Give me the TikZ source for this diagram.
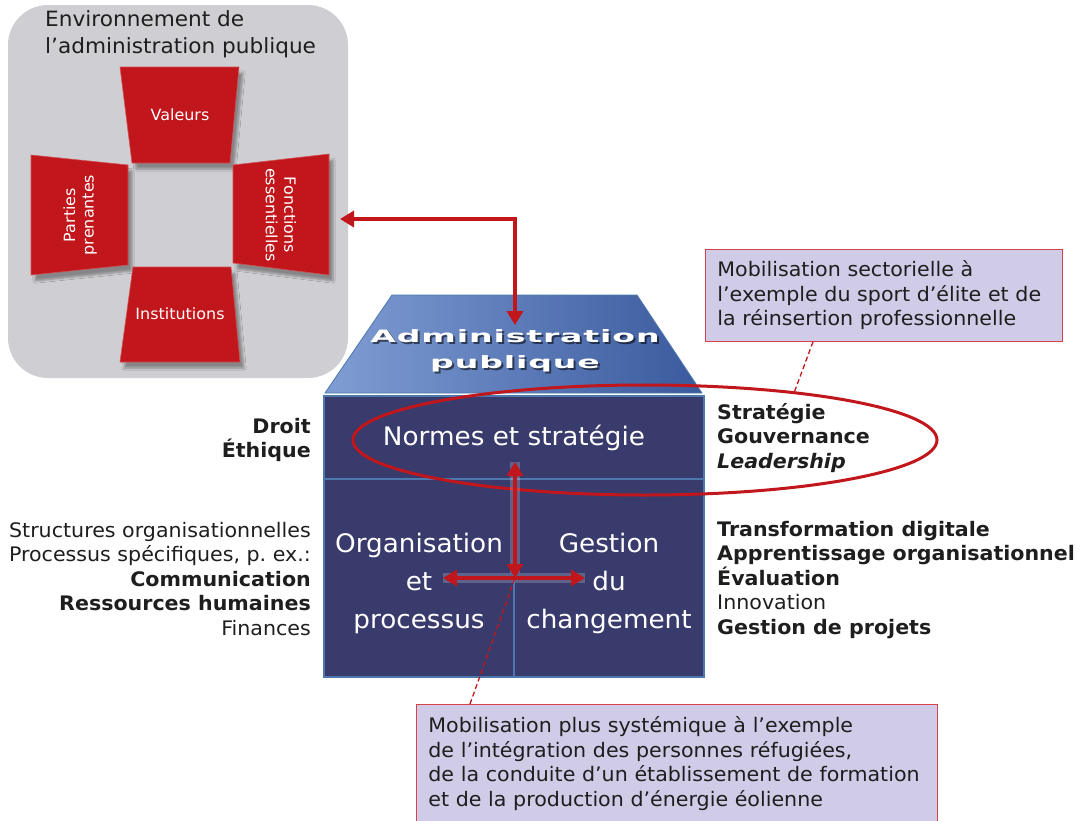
\documentclass[tikz,border=0pt]{standalone}
\usepackage{fontspec}
\setmainfont[FakeStretch=1.03]{DejaVu Sans}
\newfontfamily\rooffont[FakeStretch=1.95,LetterSpace=5]{DejaVu Sans}
\usepackage{xcolor}
\definecolor{envgray}{HTML}{CFCED2}
\definecolor{piecered}{HTML}{C1161B}
\definecolor{bodynavy}{HTML}{383B6C}
\definecolor{bodyedge}{HTML}{4C78AE}
\definecolor{roofhi}{HTML}{809DD3}
\definecolor{roofdeep}{HTML}{3A5A9E}
\definecolor{notefill}{HTML}{D0CCE7}
\definecolor{noteedge}{HTML}{D8404A}
\definecolor{inktext}{HTML}{1E1E1E}
\usepackage{tikz}
\usetikzlibrary{shapes.geometric, arrows.meta, positioning, shadows.blur, calc}

\begin{document}
\begin{tikzpicture}[x=1pt, y=-1pt,
  piece/.style={fill=piecered, draw=piecered!75!white, line width=0.6pt,
    blur shadow={shadow xshift=4pt, shadow yshift=-6pt, shadow opacity=35, shadow blur steps=6}},
  piecelabel/.style={text=white, font=\fontsize{15.5}{18.5}\selectfont, align=center},
  cell/.style={rectangle, draw=bodyedge, line width=2.5pt, fill=bodynavy},
  celltext/.style={text=white, align=center, font=\fontsize{25.5}{38}\selectfont},
  sidetext/.style={inner sep=0pt, text=inktext, font=\fontsize{20}{24.5}\selectfont},
  note/.style={rectangle, draw=noteedge, line width=0.8pt, fill=notefill,
    text=inktext, align=left, inner xsep=12pt, inner ysep=0pt,
    font=\fontsize{20}{24.5}\selectfont},
  linkarrow/.style={draw=piecered, line width=4pt,
    {Triangle[length=14pt,width=16pt]}-{Triangle[length=14pt,width=16pt]}},
  notelink/.style={draw=piecered, line width=1.3pt, dash pattern=on 5pt off 3pt}
]
\useasboundingbox (0,0) rectangle (1082,820);

% Environment panel
\node[rectangle, rounded corners=40pt, fill=envgray, minimum width=340pt,
  minimum height=373pt, inner sep=0pt] (env) at (178,191.5) {};
\node[anchor=west, inner sep=0pt, align=left, text=inktext,
  font=\fontsize{21}{27}\selectfont] (envtitle) at (45,34)
  {Environnement de\\l'administration publique};

% Four red pieces
\path[piece] (120,67) -- (239,67) -- (230,163) -- (132,163) -- cycle;
\path[piece] (31,155) -- (128,165) -- (128,265) -- (31,275) -- cycle;
\path[piece] (233,165) -- (329,154) -- (329,275) -- (233,263) -- cycle;
\path[piece] (133,267) -- (231,267) -- (240,362) -- (120,362) -- cycle;
\node[piecelabel] (values) at (180,115) {Valeurs};
\node[piecelabel, rotate=90] (stake) at (80,215) {Parties\\prenantes};
\node[piecelabel, rotate=-90] (core) at (281,215) {Fonctions\\essentielles};
\node[piecelabel] (inst) at (180,314) {Institutions};

% Roof
\path[draw=bodyedge, line width=0.8pt, left color=roofhi, right color=roofdeep]
  (392,295) -- (637,295) -- (702,393) -- (325,393) -- cycle;
\node[align=center, text=black, opacity=0.55,
  font=\rooffont\bfseries\fontsize{17}{26}\selectfont] at (517,353)
  {Administration\\publique};
\node[align=center, text=white,
  font=\rooffont\bfseries\fontsize{17}{26}\selectfont] (rooflabel) at (515,351)
  {Administration\\publique};

% Body cells
\node[cell, minimum width=380pt, minimum height=83pt] (norms) at (514,437.5) {};
\node[cell, minimum width=190pt, minimum height=198pt] (orga) at (419,578) {};
\node[cell, minimum width=190pt, minimum height=198pt] (change) at (609,578) {};
\node[celltext] at (norms) {Normes et stratégie};
\node[celltext] at ([yshift=-5pt]orga.center) {Organisation\\et\\processus};
\node[celltext] at ([yshift=-5pt]change.center) {Gestion\\du\\changement};

% Side lists
\node[sidetext, anchor=east, align=right] (law) at (311,440)
  {\textbf{Droit}\\\textbf{Éthique}};
\node[sidetext, anchor=east, align=right] (structs) at (311,579)
  {Structures organisationnelles\\Processus spécifiques, p.\ ex.:\\\textbf{Communication}\\\textbf{Ressources humaines}\\Finances};
\node[sidetext, anchor=west, align=left] (steer) at (717,438)
  {\textbf{Stratégie}\\\textbf{Gouvernance}\\\textbf{\itshape Leadership}};
\node[sidetext, anchor=west, align=left] (levers) at (717,580)
  {\textbf{Transformation digitale}\\\textbf{Apprentissage organisationnel}\\\textbf{Évaluation}\\Innovation\\\textbf{Gestion de projets}};

% Callouts
\node[note, anchor=north west, minimum width=357pt, minimum height=92pt,
  text width=333pt] (sectoral) at (705,249)
  {Mobilisation sectorielle à\\l'exemple du sport d'élite et de\\la réinsertion professionnelle};
\node[note, anchor=north west, minimum width=521pt, minimum height=118pt,
  text width=497pt] (systemic) at (416,704)
  {Mobilisation plus systémique à l'exemple\\de l'intégration des personnes réfugiées,\\de la conduite d'un établissement de formation\\et de la production d'énergie éolienne};

% Focus ring
\node[ellipse, draw=piecered, line width=3pt, minimum width=584pt,
  minimum height=110pt, inner sep=0pt] (focus) at (645,440) {};

% Links
\coordinate (envport) at (340,219);
\coordinate (rooftop) at (515,325);
\draw[linkarrow] (envport) -| (rooftop);

\coordinate (hub) at (515,578);
\coordinate (hubtop) at (515,462);
\coordinate (hubwest) at (443,578);
\coordinate (hubeast) at (585,578);
\draw[white, opacity=0.2, line width=10pt] (hubtop) -- (hub) (hubwest) -- (hubeast);
\draw[linkarrow] (hubtop) -- (hub);
\draw[linkarrow] (hubwest) -- (hubeast);

\draw[notelink] ($(sectoral.south west)+(108,0)$) -- (focus.18);
\draw[notelink] ($(systemic.north west)+(54,0)$) -- (hub);
\end{tikzpicture}
\end{document}
